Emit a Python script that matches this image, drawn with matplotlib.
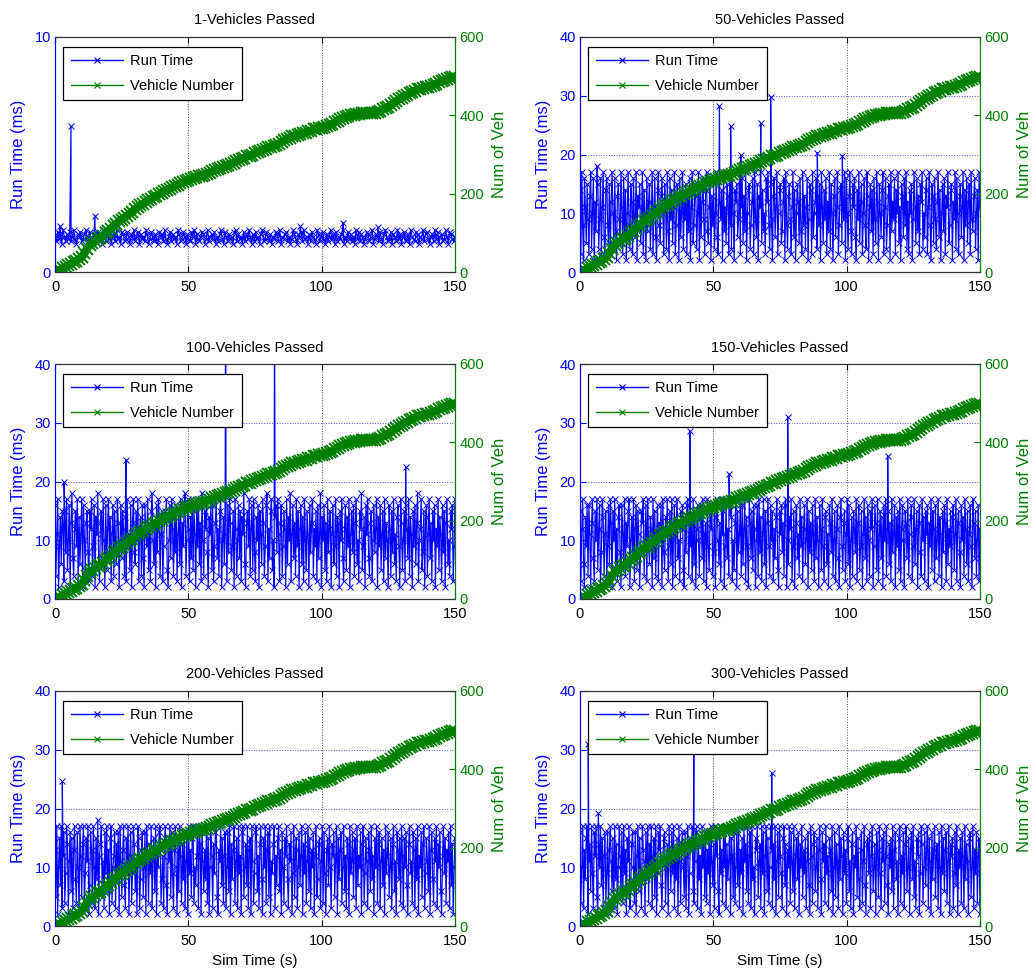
import numpy as np
import matplotlib
matplotlib.use("Agg")
import matplotlib.pyplot as plt
from matplotlib.lines import Line2D

plt.rcParams['font.family'] = ['Liberation Sans', 'DejaVu Sans']

# ---------------- data ----------------
titles = ["1-Vehicles Passed", "50-Vehicles Passed", "100-Vehicles Passed",
          "150-Vehicles Passed", "200-Vehicles Passed", "300-Vehicles Passed"]

# vehicle number (same in every panel), one value per second 0..150
veh_t = np.arange(0, 151)
veh_n = [0, 3, 6, 10, 13, 17, 21, 25, 29, 33, 38, 48, 60, 68, 73, 78, 83, 88, 93, 99,
         105, 111, 117, 123, 129, 134, 139, 144, 149, 154, 160, 165, 170, 174, 178, 183, 187,
         191, 195, 198, 202, 206, 209, 213, 216, 220, 223, 226, 229, 232, 235, 237, 240, 242,
         244, 246, 248, 251, 254, 257, 260, 262, 265, 267, 270, 273, 276, 279, 283, 286, 289,
         292, 295, 297, 300, 303, 306, 309, 312, 315, 318, 320, 322, 325, 328, 332, 336, 340,
         343, 346, 348, 350, 352, 354, 356, 359, 361, 364, 366, 367, 368, 370, 372, 375, 378,
         382, 386, 390, 393, 396, 398, 400, 402, 403, 404, 405, 405, 405, 405, 406, 407, 409,
         412, 415, 418, 422, 426, 431, 436, 441, 445, 449, 452, 456, 460, 463, 466, 468, 470,
         472, 473, 475, 478, 481, 484, 487, 490, 493, 495, 497, 499]

rt1 = np.array("""1.5 1.3 1.7 1.4 1.6 1.2 1.8 1.5 1.3 1.6 1.4 1.7 1.3 1.5 1.8 1.4 1.2 1.6 1.5 1.7
1.3 1.4 1.6 1.8 1.5 1.3 1.7 1.4 1.2 1.6 1.5 1.3 1.7 1.6 1.4 1.2 1.5 1.8 1.3 1.6
1.4 1.7 1.2 1.5 1.6 1.3 1.8 1.4 1.5 1.2 1.7 1.6 1.3 1.4 1.7 1.5 1.2 1.6 1.4 1.8
1.3 1.5 1.7 1.2 1.6 1.4 1.5 1.3 1.8 1.6 1.2 1.4 1.7 1.5 1.3 1.6 1.4 1.2 1.7 1.5
1.6 1.3 1.8 1.4 1.2 1.5 1.7 1.3 1.6 1.4 1.5 1.2 1.8 1.6 1.3 1.4 1.7 1.5 1.2 1.6
1.4 1.3 1.7 1.5 1.8 1.2 1.6 1.4 1.3 1.5 1.7 1.6 1.2 1.4 1.8 1.3 1.5 1.6 1.4 1.7
1.2 1.5 1.3 1.6 1.8 1.4 1.2 1.7 1.5 1.3 1.6 1.4 1.5 1.2 1.7 1.8 1.3 1.6 1.4 1.5
1.2 1.7 1.3 1.6 1.4 1.8 1.5 1.2 1.6 1.3 1.7 1.4 1.5 1.2 1.6 1.8 1.3 1.4 1.7 1.5
1.3 1.6 1.2 1.5 1.4 1.7 1.6 1.3 1.8 1.2 1.5 1.4 1.6 1.7 1.3 1.5 1.2 1.4 1.8 1.6
1.4 1.2 1.6 1.5 1.7 1.3 1.8 1.4 1.5 1.2 1.6 1.3 1.7 1.5 1.4 1.2 1.8 1.6 1.3 1.5
1.7 1.4 1.2 1.6 1.3 1.5 1.8 1.4 1.6 1.2 1.7 1.3 1.5 1.4 1.6 1.8 1.2 1.5 1.3 1.7
1.4 1.6 1.3 1.5 1.2 1.8 1.4 1.7 1.3 1.6 1.5 1.2 1.4 1.7 1.6 1.3 1.5 1.8 1.2 1.4
1.6 1.5 1.3 1.7 1.4 1.2 1.6 1.8 1.5 1.3 1.4 1.7 1.2 1.6 1.5 1.3 1.8 1.4 1.6 1.2
1.5 1.7 1.3 1.4 1.6 1.2 1.8 1.5 1.4 1.3 1.7 1.6 1.2 1.5 1.4 1.8 1.3 1.6 1.7 1.4
1.2 1.5 1.6 1.3 1.8 1.4 1.7 1.2 1.5 1.6 1.3 1.4 1.8 1.5 1.2 1.7 1.6 1.4 1.3 1.5""".split(), float)

rt50 = np.array("""14 3 17 8 2 16 11 5 15 9 3 13 17 4 10 16 2 12 7 18 15 4 9 16 3 11 17 6 2 14
16 8 5 15 3 12 17 10 4 16 7 2 13 15 9 5 17 11 3 16 6 14 2 10 17 8 4 15 12 3
16 9 6 17 2 13 11 15 5 8 17 3 14 10 2 16 7 12 15 4 9 17 3 11 16 6 2 14 17 8
5 13 16 10 3 15 12 4 17 7 2 16 9 14 5 11 17 3 8 15 13 2 16 6 10 17 4 12 9 15
3 14 7 16 2 11 17 5 8 15 13 4 10 17 2 15 6 12 16 9 3 14 17 7 5 11 16 2 13 8
15 4 10 17 6 3 16 12 9 14 2 17 7 11 5 15 13 3 16 8 4 17 10 2 14 12 15 6 9 17
3 11 16 5 13 7 17 2 10 14 15 4 8 12 16 3 17 9 6 15 2 13 11 17 5 14 7 10 3 16
12 17 8 4 15 9 2 13 16 6 11 17 3 10 14 15 5 7 12 16 2 17 8 4 13 15 9 3 11 17
6 14 2 10 15 12 5 16 7 3 17 8 13 4 11 16 2 9 15 14 3 17 6 10 12 16 4 13 8 15
2 17 11 5 14 9 16 3 12 7 17 4 15 10 2 13 16 6 11 17 3 8 14 15 5 12 9 17 2 16
10 4 13 17 7 3 15 11 16 6 2 14 9 17 5 12 15 3 10 16 8 4 17 13 2 11 15 7 14 3
16 9 5 17 12 2 15 10 6 14 17 3 11 16 4 8 13 15 2 17 7 12 9 16 3 14 10 17 5 11
2 15 13 6 16 8 17 4 12 3 14 10 15 2 9 17 11 5 16 7 13 3 15 12 17 4 10 6 14 16
3 11 17 8 2 15 13 5 16 9 4 12 17 6 14 2 10 15 7 16 3 13 11 17 5 8 14 15 2 12
9 17 4 16 10 3 13 15 6 11 17 2 14 8 16 5 12 15 3 17 9 7 13 16 4 10 14 2 17 11""".split(), float)

rt100 = np.array("""16 4 11 17 2 9 14 6 15 12 3 15 8 17 5 10 16 2 13 18 7 4 12 15 9 17 3 14 6 11
17 2 16 10 5 13 15 8 3 15 12 17 4 9 16 2 14 11 18 6 3 13 15 7 17 10 2 16 5 12
17 8 14 3 11 16 4 15 9 6 17 13 2 10 16 7 15 12 4 14 3 17 9 11 5 16 2 13 17 8
6 15 10 17 3 12 14 4 16 7 2 16 11 9 17 5 13 3 15 18 10 6 12 2 16 8 17 14 4 11
15 3 9 15 13 17 5 2 10 16 7 17 12 4 14 8 16 3 11 15 6 17 2 13 9 16 18 4 10 17
12 3 14 7 17 5 15 11 2 16 9 17 6 13 3 18 10 4 15 12 17 8 2 14 11 16 5 16 3 9
13 17 7 12 4 15 17 2 10 14 6 18 11 3 16 8 17 13 5 9 15 2 17 12 4 10 16 7 15 3
14 11 18 6 2 13 15 9 17 4 12 16 5 17 8 3 14 10 16 2 15 11 6 17 13 4 9 16 18 3
12 7 15 17 5 10 2 14 16 8 17 11 3 13 16 4 9 15 12 2 17 6 14 10 18 3 11 16 7 13
4 17 9 15 2 12 16 6 14 3 17 10 5 15 11 2 16 8 13 17 4 12 9 15 3 16 7 11 18 2
14 10 16 5 13 3 17 8 12 15 2 11 16 6 9 17 4 14 13 2 15 10 17 7 3 12 16 5 14 9
17 2 11 15 8 16 4 13 17 6 10 3 15 12 18 5 9 14 2 16 11 17 7 4 13 15 3 10 16 8
12 17 2 14 9 16 5 11 15 3 17 7 13 10 2 16 12 4 15 8 17 6 11 3 14 16 9 2 17 13
5 10 15 3 16 12 7 17 4 14 11 2 15 9 16 6 13 18 3 10 12 17 5 8 15 2 14 16 4 11
17 7 13 3 15 10 16 2 12 9 17 5 14 11 3 16 8 15 2 13 17 6 10 4 15 12 16 3 9 17""".split(), float)

rt150 = np.array("""15 3 12 17 6 2 14 9 16 4 16 11 2 13 17 7 3 15 10 17 5 12 16 2 8 17 14 4 11 15
3 9 16 6 17 13 2 15 10 17 5 12 3 14 16 8 2 16 11 6 17 4 13 9 15 17 2 10 14 7
17 3 12 16 5 15 11 2 8 15 13 17 4 10 16 3 17 9 6 14 12 2 17 7 15 4 11 16 3 13
10 16 2 17 8 5 14 12 17 3 9 15 6 17 2 11 16 4 13 17 7 10 3 15 12 16 5 2 14 8
16 17 4 11 9 13 3 17 6 15 2 12 16 10 4 14 16 7 17 3 11 13 2 17 9 5 15 12 16 4
8 16 2 14 17 10 6 13 3 17 11 15 2 9 16 7 12 4 16 14 17 3 10 5 13 17 2 15 8 11
16 4 16 6 12 17 3 14 9 2 17 13 7 15 5 16 10 2 12 16 4 17 8 14 3 11 17 6 15 2
13 17 9 4 16 10 15 3 12 7 14 17 5 2 15 11 16 8 13 4 16 17 2 10 6 14 12 17 3 9
15 2 13 16 7 11 4 17 9 14 3 12 16 6 10 17 2 15 8 13 5 16 11 3 17 7 14 10 2 16
12 5 17 9 3 14 15 6 11 2 16 13 8 17 4 10 15 3 12 16 7 2 14 17 9 5 13 15 3 11
17 6 16 2 10 14 4 15 12 8 17 3 13 16 5 9 15 2 11 17 7 14 3 16 10 4 15 12 17 2
9 16 13 5 17 3 11 15 7 14 2 16 10 17 4 12 15 6 13 3 17 8 11 16 2 14 9 15 5 17
3 12 16 10 2 15 13 7 17 4 11 14 16 3 9 17 6 12 15 2 13 16 8 4 17 10 14 3 15 11
16 2 13 9 17 5 15 12 3 16 7 10 17 4 14 11 2 15 8 16 13 3 17 6 12 9 15 2 14 16
5 11 17 3 13 15 8 2 16 10 14 4 17 12 6 15 3 11 16 9 2 17 13 7 15 4 10 16 3 12""".split(), float)

rt200 = np.array("""13 5 17 2 10 15 7 17 3 12 16 4 9 17 14 2 11 16 6 15 3 13 17 8 4 16 10 2 17 12
5 14 17 3 9 15 11 17 2 7 16 13 4 17 10 3 15 8 18 2 12 14 17 5 11 3 16 9 17 6
13 2 15 17 4 10 12 16 3 14 8 16 2 17 11 5 13 17 7 3 15 10 17 2 12 16 4 9 17 14
6 11 2 17 15 3 8 13 16 5 10 16 2 17 12 4 14 9 17 3 11 15 6 17 2 13 10 16 17 4
8 12 3 15 17 7 2 14 11 17 5 16 9 3 13 17 10 2 15 6 17 12 4 14 8 16 3 11 16 2
17 9 13 5 15 17 4 10 7 12 17 3 16 14 2 17 11 6 13 8 17 4 15 2 10 17 12 3 14 9
16 17 5 2 13 11 17 7 15 4 12 16 3 10 16 6 17 2 14 8 13 17 4 11 15 3 17 9 12 2
16 17 5 10 14 7 17 3 13 15 2 17 11 4 9 16 17 6 12 3 14 17 8 2 15 10 17 4 13 16
5 17 2 11 9 14 17 3 12 7 15 17 6 13 2 16 10 4 15 12 17 8 3 14 11 16 2 9 17 5
13 15 3 10 16 7 12 17 2 14 9 16 4 11 17 6 15 3 13 10 16 2 12 17 5 8 14 15 3 11
17 4 16 9 2 13 15 7 17 10 3 14 12 16 5 11 17 2 15 8 13 16 4 10 17 6 12 3 15 14
2 17 9 11 16 5 13 15 3 17 7 12 10 16 2 14 17 4 9 15 11 3 16 13 6 17 8 12 2 15
10 17 4 14 16 3 11 15 7 13 2 17 9 12 16 5 10 15 3 14 17 6 11 2 16 13 8 15 4 17
12 3 15 10 16 7 2 14 17 9 11 4 16 13 3 15 8 17 2 12 10 16 5 14 17 3 9 15 11 6
17 2 13 16 8 4 15 11 17 3 14 10 16 6 2 12 17 9 15 4 13 11 16 3 17 7 14 2 10 15""".split(), float)

rt300 = np.array("""16 4 10 17 3 13 8 15 17 2 11 14 6 17 9 3 16 12 17 5 2 14 10 17 7 15 3 12 16 4
9 16 2 13 17 11 6 15 3 17 8 14 2 10 17 12 5 16 4 17 9 13 2 15 11 17 3 7 14 16
10 4 16 2 12 17 6 15 9 3 17 13 11 2 16 8 17 4 14 10 17 3 12 15 5 17 2 9 16 13
17 7 3 11 15 16 4 10 14 2 17 12 6 16 9 17 3 13 8 15 2 17 11 4 14 16 10 5 16 3
12 17 2 9 15 13 17 6 4 11 16 17 3 14 8 12 2 17 10 15 5 16 4 13 9 16 2 17 11 7
14 3 17 12 15 6 2 17 9 13 4 16 10 17 3 14 8 11 17 2 15 12 5 16 4 10 16 7 17 3
13 9 15 2 17 11 14 6 17 4 12 16 3 17 8 10 2 15 13 17 5 11 14 3 17 9 16 2 12 17
6 15 4 10 17 13 3 14 8 17 2 11 16 5 17 12 9 3 15 17 7 14 2 13 10 17 4 16 11 6
17 3 12 15 8 16 2 14 10 17 5 13 9 15 3 11 16 7 2 17 12 4 14 16 6 10 15 3 13 17
8 2 16 11 14 4 17 9 12 3 15 13 6 17 2 10 16 5 14 11 3 17 8 15 12 2 16 9 13 4
15 17 6 11 3 14 16 2 12 10 17 5 15 8 3 13 16 4 11 17 7 2 14 15 9 16 3 12 17 6
10 14 2 16 13 5 17 9 3 15 11 16 4 12 17 7 2 14 10 15 6 17 3 13 16 8 11 2 15 17
4 12 9 16 3 14 17 6 10 15 2 13 16 8 17 5 11 3 15 12 16 2 9 17 14 4 10 16 7 13
17 3 15 11 2 16 8 13 17 5 12 14 3 16 10 2 17 9 15 6 13 16 4 11 17 2 14 12 15 3
9 16 7 17 2 13 10 15 4 16 12 3 17 8 14 11 2 15 16 5 10 17 3 13 9 16 4 12 15 2""".split(), float)

# isolated spikes (time s, run time ms)
sp1_t, sp1_v = [2, 6, 15, 92, 108, 121], [1.95, 6.2, 2.4, 1.95, 2.1, 1.9]
sp50_t, sp50_v = [52.3, 56.5, 60.3, 67.8, 71.5, 89.0, 98.4], [28.2, 24.8, 19.9, 25.3, 29.8, 20.3, 19.8]
sp100_t, sp100_v = [3.4, 26.6, 64.0, 82.3, 131.5], [19.9, 23.7, 60.0, 60.0, 22.5]
sp150_t, sp150_v = [41.3, 55.9, 77.9, 115.4], [28.6, 21.2, 31.0, 24.3]
sp200_t, sp200_v = [2.75], [24.6]
sp300_t, sp300_v = [3.1, 6.9, 42.7, 71.9], [31.0, 19.2, 33.0, 26.0]

run_series = [rt1, rt50, rt100, rt150, rt200, rt300]
spike_t = [sp1_t, sp50_t, sp100_t, sp150_t, sp200_t, sp300_t]
spike_v = [sp1_v, sp50_v, sp100_v, sp150_v, sp200_v, sp300_v]
rt_ymax = [10, 40, 40, 40, 40, 40]
rt_ticks = [[0, 10], [0, 10, 20, 30, 40], [0, 10, 20, 30, 40], [0, 10, 20, 30, 40],
            [0, 10, 20, 30, 40], [0, 10, 20, 30, 40]]

# ---------------- drawing ----------------
BLUE = '#0000ff'
GREEN = '#008000'

fig = plt.figure(figsize=(10.33, 9.77), dpi=100)
W, H = 1033, 977
lefts = [55, 580]
tops = [37, 364, 691]
aw, ah = 400, 235

for i in range(6):
    r, c = divmod(i, 2)
    ax = fig.add_axes([lefts[c] / W, 1 - (tops[r] + ah) / H, aw / W, ah / H])
    rt = run_series[i]
    t = np.linspace(0, 150, len(rt))
    ta = np.concatenate([t, spike_t[i]])
    va = np.concatenate([rt, spike_v[i]])
    order = np.argsort(ta, kind='stable')
    ax.plot(ta[order], va[order], color=BLUE, lw=0.85, marker='x', ms=5, mew=0.7)
    ax.set_xlim(0, 150)
    ax.set_ylim(0, rt_ymax[i])
    ax.set_xticks([0, 50, 100, 150])
    ax.set_yticks(rt_ticks[i])
    ax.xaxis.grid(True, color='k', ls=':', lw=0.7, alpha=0.7)
    ax.yaxis.grid(True, color=BLUE, ls=':', lw=0.7, alpha=0.7)
    ax.set_axisbelow(True)
    ax.tick_params(axis='x', direction='in', length=4, top=True, labelsize=10.5, pad=6,
                   colors='k')
    ax.tick_params(axis='y', direction='in', length=4, labelsize=10.5, pad=3, colors=BLUE)
    ax.set_ylabel('Run Time (ms)', color=BLUE, fontsize=12, labelpad=6)
    ax.set_title(titles[i], fontsize=10.5, pad=9)
    if r == 2:
        ax.set_xlabel('Sim Time (s)', fontsize=11)

    ax2 = ax.twinx()
    ax2.plot(veh_t, veh_n, color=GREEN, lw=6, marker='x', ms=8, mew=1.4)
    ax2.set_ylim(0, 600)
    ax2.set_yticks([0, 200, 400, 600])
    ax2.tick_params(axis='y', direction='in', length=4, labelsize=10.5, pad=3, colors=GREEN)
    ax2.set_ylabel('Num of Veh', color=GREEN, fontsize=12, labelpad=6)
    for a in (ax, ax2):
        a.spines['left'].set_color(BLUE)
        a.spines['right'].set_color(GREEN)
        a.spines['top'].set_color('#333333')
        a.spines['bottom'].set_color('#333333')

    handles = [Line2D([], [], color=BLUE, lw=1, marker='x', ms=5, mew=0.8),
               Line2D([], [], color=GREEN, lw=1, marker='x', ms=5, mew=0.8)]
    leg = ax2.legend(handles, ['Run Time', 'Vehicle Number'], loc='upper left',
                     bbox_to_anchor=(0.021, 0.957), borderaxespad=0, fontsize=10.5,
                     fancybox=False, edgecolor='black', framealpha=1,
                     handlelength=3.6, handletextpad=0.5, labelspacing=0.7,
                     borderpad=0.5, numpoints=1)
    leg.get_frame().set_linewidth(0.9)
    leg.set_zorder(10)

fig.savefig('out.png', dpi=100)
